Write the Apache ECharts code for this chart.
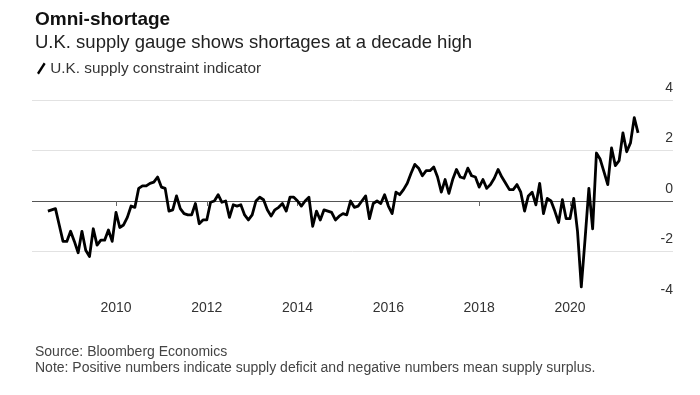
<!DOCTYPE html>
<html>
<head>
<meta charset="utf-8">
<script src="https://cdn.jsdelivr.net/npm/echarts@6/dist/echarts.min.js"></script>
<style>
html,body{margin:0;padding:0;background:#fff;}
#c{width:700px;height:395px;}
</style>
</head>
<body>
<div id="c"></div>
<script>
// Monthly U.K. supply constraint indicator, starting July 2008
const startYear = 2008;
const startMonth = 7;
const values = [
  -0.4, -0.35, -0.3, -0.95, -1.6, -1.6, -1.2, -1.6, -2.05, -1.2,
  -1.95, -2.2, -1.1, -1.75, -1.55, -1.55, -1.15, -1.6, -0.45, -1.05,
  -0.95, -0.65, -0.2, -0.25, 0.5, 0.6, 0.6, 0.7, 0.75, 0.95,
  0.55, 0.5, -0.4, -0.35, 0.2, -0.3, -0.5, -0.55, -0.55, -0.1,
  -0.9, -0.75, -0.75, -0.05, 0.0, 0.25, -0.05, 0.0, -0.65, -0.15,
  -0.2, -0.15, -0.55, -0.75, -0.55, 0.0, 0.15, 0.05, -0.35, -0.6,
  -0.35, -0.25, -0.1, -0.4, 0.15, 0.15, 0.0, -0.2, 0.0, 0.15,
  -1.0, -0.4, -0.75, -0.35, -0.4, -0.45, -0.75, -0.6, -0.5, -0.55,
  0.0, -0.25, -0.2, 0.0, 0.2, -0.7, -0.1, 0.0, -0.1, 0.25,
  -0.2, -0.5, 0.35, 0.25, 0.45, 0.7, 1.1, 1.45, 1.3, 1.0,
  1.2, 1.2, 1.35, 0.95, 0.35, 0.85, 0.3, 0.85, 1.25, 0.95,
  0.9, 1.3, 1.0, 0.95, 0.55, 0.85, 0.5, 0.65, 0.9, 1.25,
  0.95, 0.7, 0.45, 0.45, 0.65, 0.35, -0.4, 0.2, 0.35, -0.15,
  0.7, -0.5, 0.1, 0.0, -0.4, -0.85, 0.05, -0.7, -0.7, 0.1,
  -1.2, -3.4, -1.5, 0.5, -1.1, 1.9, 1.65, 1.15, 0.65, 2.1,
  1.4, 1.6, 2.7, 1.95, 2.3, 3.3, 2.7
];
const xTickYears = [2010, 2012, 2014, 2016, 2018, 2020];
const yTicks = [-4, -2, 0, 2, 4];

const titleText = 'Omni-shortage';
const subtitleText = 'U.K. supply gauge shows shortages at a decade high';
const seriesName = 'U.K. supply constraint indicator';
const sourceText = 'Source: Bloomberg Economics';
const noteText = 'Note: Positive numbers indicate supply deficit and negative numbers mean supply surplus.';

const seriesData = values.map((v, i) => {
  const m = startMonth - 1 + i;
  return [startYear + Math.floor(m / 12) + (m % 12) / 12, v];
});

const FONT = '"Liberation Sans", Arial, Helvetica, sans-serif';
const chart = echarts.init(document.getElementById('c'), null, {renderer: 'canvas'});
chart.setOption({
  animation: false,
  backgroundColor: '#fff',
  textStyle: {fontFamily: FONT},
  title: [
    {text: titleText, left: 30, top: 5, textStyle: {fontFamily: FONT, fontSize: 19, fontWeight: 'bold', color: '#111'}},
    {text: subtitleText, left: 30, top: 28, textStyle: {fontFamily: FONT, fontSize: 18.5, fontWeight: 'normal', color: '#222'}},
    {text: sourceText, left: 30, top: 340, textStyle: {fontFamily: FONT, fontSize: 14, fontWeight: 'normal', color: '#444'}},
    {text: noteText, left: 30, top: 356, textStyle: {fontFamily: FONT, fontSize: 14, fontWeight: 'normal', color: '#444'}}
  ],
  legend: {
    left: 32, top: 56,
    itemWidth: 10, itemHeight: 12, itemGap: 6,
    icon: 'path://M0,11 L7,0 L9,1.5 L2,12.5 Z',
    textStyle: {fontFamily: FONT, fontSize: 15.3, color: '#333', padding: [0, 0, 0, -1]},
    data: [{name: seriesName, itemStyle: {color: '#000'}}]
  },
  grid: {left: 32, right: 27, top: 100, bottom: 93, containLabel: false},
  xAxis: {
    type: 'value',
    min: 2008.15, max: 2022.27,
    offset: -8,
    axisLine: {show: false},
    splitLine: {show: false},
    axisTick: {show: true, length: 5, customValues: xTickYears, lineStyle: {color: '#666', width: 1}},
    axisLabel: {customValues: xTickYears, margin: 7, fontSize: 14, color: '#333', fontFamily: FONT, formatter: v => String(Math.round(v))}
  },
  yAxis: {
    type: 'value',
    position: 'right',
    min: -4, max: 4, interval: 2,
    axisLine: {show: false},
    axisTick: {show: false},
    axisLabel: {inside: true, margin: 0, align: 'right', verticalAlign: 'bottom', padding: [0, 0, 5, 0], fontSize: 14, color: '#333', fontFamily: FONT},
    splitLine: {show: true, lineStyle: {width: 1, color: ['rgba(0,0,0,0)', '#e2e2e2', '#555', '#e2e2e2', '#e2e2e2']}}
  },
  series: [{
    name: seriesName,
    type: 'line',
    data: seriesData,
    showSymbol: false,
    symbol: 'none',
    lineStyle: {color: '#000', width: 2.8, join: 'round'},
    itemStyle: {color: '#000'}
  }]
});
</script>
</body>
</html>
